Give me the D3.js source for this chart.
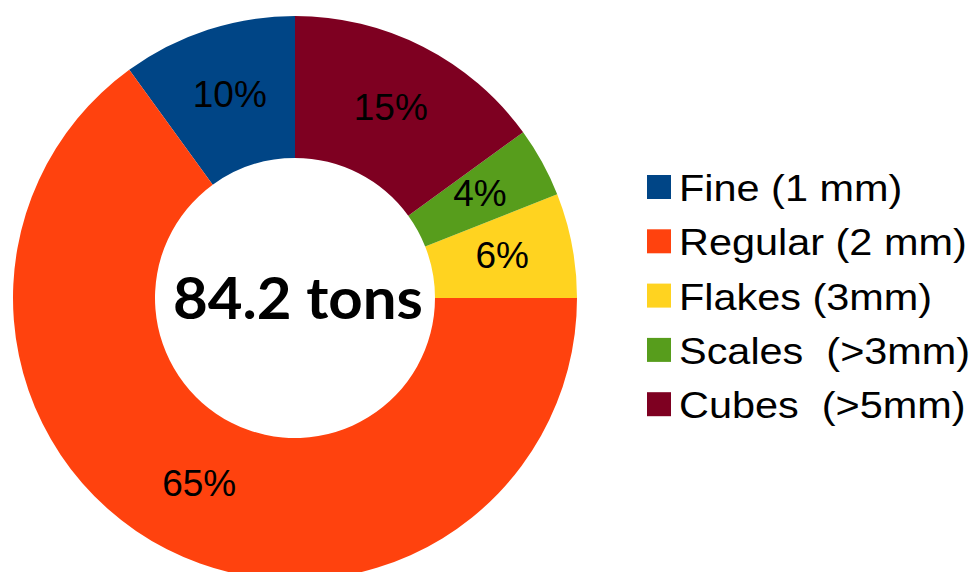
<!DOCTYPE html>
<html>
<head>
<meta charset="utf-8">
<script src="https://cdn.jsdelivr.net/npm/d3@7"></script>
<style>
  html, body { margin: 0; padding: 0; background: #fff; }
  svg { display: block; }
</style>
</head>
<body>
<svg id="chart" width="969" height="572"></svg>
<script>
const categories = ["Fine (1 mm)", "Regular (2 mm)", "Flakes (3mm)", "Scales  (>3mm)", "Cubes  (>5mm)"];
const values = [10, 65, 6, 4, 15];
const colors = ["#004586", "#ff420e", "#ffd320", "#579d1c", "#7e0021"];
const centerLabel = "84.2 tons";

const svg = d3.select("#chart");
const cx = 295, cy = 298, rOuter = 282, rInner = 140;

const color = d3.scaleOrdinal().domain(categories).range(colors);
const data = categories.map((c, i) => ({ name: c, value: values[i] }));
const total = d3.sum(values);

const pie = d3.pie().sort(null).value(d => d.value).startAngle(0).endAngle(-2 * Math.PI);
const arc = d3.arc().innerRadius(rInner).outerRadius(rOuter);
const arcs = pie(data);

const g = svg.append("g").attr("transform", `translate(${cx},${cy})`);
g.selectAll("path.slice").data(arcs).join("path")
  .attr("class", "slice")
  .attr("d", arc)
  .attr("fill", d => color(d.data.name));

g.selectAll("text.pct").data(arcs).join("text")
  .attr("class", "pct")
  .attr("transform", d => `translate(${arc.centroid(d)})`)
  .attr("dy", 10)
  .attr("text-anchor", "middle")
  .attr("font-family", "'Liberation Sans', Arial, sans-serif")
  .attr("font-size", 37)
  .attr("fill", "#000")
  .text(d => Math.round(d.data.value / total * 100) + "%");

svg.append("text")
  .attr("x", 298).attr("y", 319)
  .attr("text-anchor", "middle")
  .attr("font-family", "Lato, 'Open Sans', sans-serif")
  .attr("font-weight", "bold")
  .attr("font-size", 58)
  .attr("textLength", 250)
  .attr("lengthAdjust", "spacingAndGlyphs")
  .attr("fill", "#000")
  .text(centerLabel);

const legend = svg.append("g").attr("transform", "translate(647,175)");
const rows = legend.selectAll("g").data(categories).join("g")
  .attr("transform", (d, i) => `translate(0,${i * 54.3})`);
rows.append("rect").attr("width", 24).attr("height", 24).attr("fill", d => color(d));
rows.append("text")
  .attr("transform", "translate(32,26) scale(1.12,1)")
  .attr("font-family", "'Liberation Sans', Arial, sans-serif")
  .attr("font-size", 37)
  .attr("fill", "#000")
  .style("white-space", "pre")
  .text(d => d);
</script>
</body>
</html>
